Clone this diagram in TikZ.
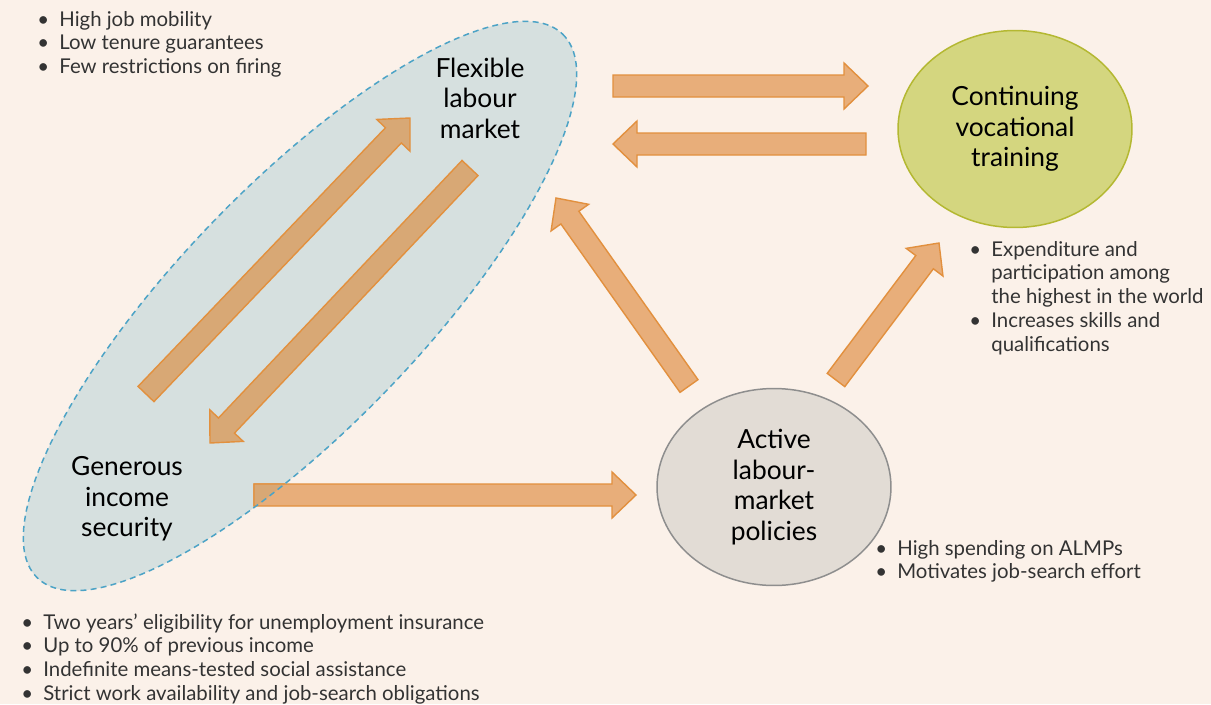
\documentclass[tikz,border=0pt]{standalone}
\usepackage{fontspec}
\setmainfont{Lato}
\usetikzlibrary{calc, shapes.geometric}
\definecolor{pagebg}{HTML}{FBF1E9}
\definecolor{zonefill}{HTML}{D6E0DF}
\definecolor{zoneline}{HTML}{4CA3C6}
\definecolor{arrowfill}{HTML}{E8AE7A}
\definecolor{arrowin}{HTML}{D8A875}
\definecolor{arrowline}{HTML}{E2903E}
\definecolor{cvtfill}{HTML}{D4D67F}
\definecolor{cvtline}{HTML}{B4B832}
\definecolor{almpfill}{HTML}{E2DCD5}
\definecolor{almpline}{HTML}{8E8E8E}
\newcommand{\pillarfont}{\fontsize{15}{17.4}\selectfont}
\newcommand{\notefont}{\fontsize{11.6}{13.6}\selectfont}
\tikzset{
  % the three pillars
  pillar/.style={ellipse, minimum width=4.68cm, minimum height=3.94cm, inner sep=0pt,
    align=center, font=\pillarfont, line width=0.85pt},
  % label with no frame
  zonelbl/.style={align=center, font=\pillarfont, inner sep=0pt},
  % flexicurity zone
  zone/.style={fill=zonefill},
  zoneedge/.style={draw=zoneline, dash pattern=on 3.4pt off 2.4pt, line width=0.85pt},
  % block arrow
  fatarrow/.style={draw=arrowline, fill=arrowfill, line width=0.8pt, line join=miter},
  % bullet lists
  bullets/.style={anchor=north west, inner sep=0pt, font=\notefont, text=black!80},
}
% block arrow from #2 to tip #3
\newcommand{\fatarrow}[3][]{%
  \coordinate (ah) at ($(#3)!0.48cm!(#2)$);
  \draw[fatarrow,#1] ($(#2)!0.22cm!90:(#3)$) -- ($(ah)!0.22cm!-90:(#2)$)
    -- ($(ah)!0.46cm!-90:(#2)$) -- (#3) -- ($(ah)!0.46cm!90:(#2)$)
    -- ($(ah)!0.22cm!90:(#2)$) -- ($(#2)!0.22cm!-90:(#3)$) -- cycle;
}

\begin{document}
\begin{tikzpicture}[x=0.02cm, y=-0.02cm]
  \useasboundingbox (0,0) rectangle (1211,704);
  \fill[pagebg] (0,0) rectangle (1211,704);
  \fill[zone, rotate around={46:(300,306)}] (300,306) ellipse [x radius=378, y radius=121];

  \node[zonelbl] (flex) at (480,98) {Flexible\\labour\\market};
  \node[zonelbl] (gis) at (127,499) {Generous\\income\\security};
  \node[pillar, draw=cvtline, fill=cvtfill] (cvt) at (1015,129) {Continuing\\vocational\\training};
  \node[pillar, draw=almpline, fill=almpfill] (almp) at (774,487) {Active\\labour-\\market\\policies};

  % arrow ends
  \coordinate (fl-cvt-s) at (613,86);   \coordinate (fl-cvt-t) at (868,86);
  \coordinate (cvt-fl-s) at (866,144);  \coordinate (cvt-fl-t) at (613,144);
  \coordinate (almp-fl-s) at (689,386); \coordinate (almp-fl-t) at (556,198);
  \coordinate (almp-cvt-s) at (836,380);\coordinate (almp-cvt-t) at (939,243);
  \coordinate (gis-almp-s) at (254,495);\coordinate (gis-almp-t) at (636,495);
  \coordinate (gis-fl-s) at (146,394);  \coordinate (gis-fl-t) at (410,118);
  \coordinate (fl-gis-s) at (470,168);  \coordinate (fl-gis-t) at (210,443);

  \fatarrow{fl-cvt-s}{fl-cvt-t}
  \fatarrow{cvt-fl-s}{cvt-fl-t}
  \fatarrow{almp-fl-s}{almp-fl-t}
  \fatarrow{almp-cvt-s}{almp-cvt-t}
  \fatarrow{gis-almp-s}{gis-almp-t}
  \fatarrow[fill=arrowin]{gis-fl-s}{gis-fl-t}
  \fatarrow[fill=arrowin]{fl-gis-s}{fl-gis-t}
  \begin{scope}
    \clip[rotate around={46:(300,306)}] (300,306) ellipse [x radius=378, y radius=121];
    \fatarrow[fill=arrowin]{gis-almp-s}{gis-almp-t}
  \end{scope}
  \draw[zoneedge, rotate around={46:(300,306)}] (300,306) ellipse [x radius=378, y radius=121];

  \node[bullets] (flex-notes) at (37,9) {\begin{tabular}{@{}p{0.44cm}@{}l@{}}
    \textbullet & High job mobility\\
    \textbullet & Low tenure guarantees\\
    \textbullet & Few restrictions on firing
  \end{tabular}};
  \node[bullets] (cvt-notes) at (969,239) {\begin{tabular}{@{}p{0.44cm}@{}l@{}}
    \textbullet & Expenditure and\\
                & participation among\\
                & the highest in the world\\
    \textbullet & Increases skills and\\
                & qualifications
  \end{tabular}};
  \node[bullets] (almp-notes) at (875,538) {\begin{tabular}{@{}p{0.44cm}@{}l@{}}
    \textbullet & High spending on ALMPs\\
    \textbullet & Motivates job-search effort
  \end{tabular}};
  \node[bullets] (gis-notes) at (21,612) {\begin{tabular}{@{}p{0.44cm}@{}l@{}}
    \textbullet & Two years’ eligibility for unemployment insurance\\
    \textbullet & Up to 90\% of previous income\\
    \textbullet & Indefinite means-tested social assistance\\
    \textbullet & Strict work availability and job-search obligations
  \end{tabular}};
\end{tikzpicture}
\end{document}
